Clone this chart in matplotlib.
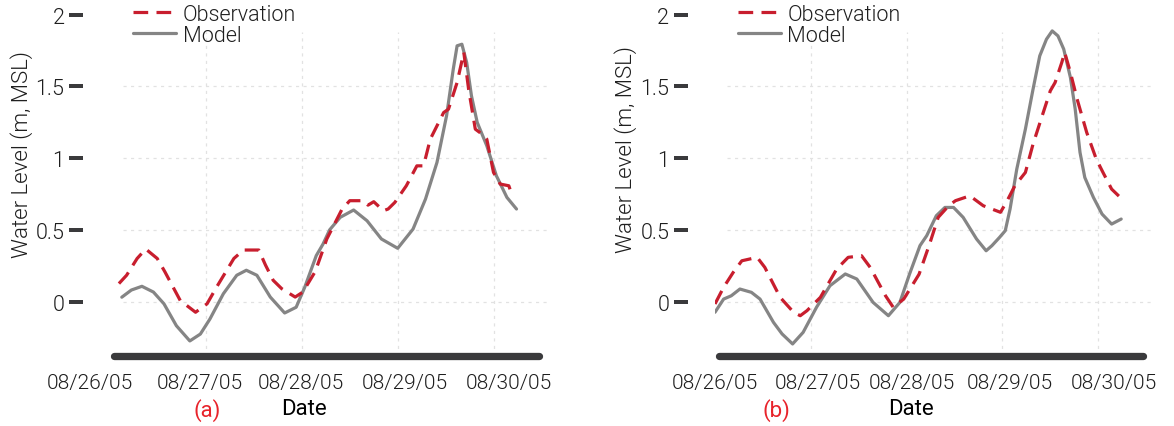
import numpy as np
import matplotlib
matplotlib.use("Agg")
import matplotlib.pyplot as plt
from matplotlib.transforms import ScaledTranslation, blended_transform_factory

plt.rcParams['font.family'] = ['Roboto', 'DejaVu Sans']

# ---------------- data (x in days since 08/26/05 00:00) ----------------
date_labels = ["08/26/05", "08/27/05", "08/28/05", "08/29/05", "08/30/05"]
day_ticks = [0, 1, 2, 3, 4]
y_ticks = [0, 0.5, 1, 1.5, 2]
y_tick_labels = ["0", "0.5", "1", "1.5", "2"]

a_model_t = [0.12, 0.22, 0.33, 0.45, 0.56, 0.69, 0.83, 0.94, 1.04, 1.18, 1.32, 1.42, 1.53,
             1.67, 1.82, 1.94, 2.03, 2.15, 2.22, 2.29, 2.40, 2.54, 2.68, 2.83, 3.00, 3.16,
             3.29, 3.41, 3.51, 3.58, 3.62, 3.67, 3.72, 3.77, 3.83, 3.93, 4.03, 4.14, 4.24]
a_model_v = [0.03, 0.08, 0.106, 0.066, -0.016, -0.169, -0.275, -0.227, -0.122, 0.054, 0.183,
             0.218, 0.183, 0.031, -0.080, -0.040, 0.10, 0.32, 0.40, 0.50, 0.587, 0.638, 0.563,
             0.436, 0.371, 0.505, 0.714, 0.970, 1.295, 1.62, 1.783, 1.794, 1.667, 1.434, 1.249,
             1.086, 0.877, 0.726, 0.645]

a_obs_t = [0.09, 0.17, 0.28, 0.37, 0.49, 0.57, 0.73, 0.89, 1.01, 1.11, 1.29, 1.39, 1.55, 1.62,
           1.70, 1.79, 1.93, 2.01, 2.14, 2.26, 2.42, 2.50, 2.64, 2.69, 2.75, 2.85, 2.90, 2.97,
           3.09, 3.20, 3.27, 3.34, 3.48, 3.53, 3.62, 3.69, 3.74, 3.81, 3.88, 3.93, 4.00, 4.07,
           4.16, 4.19]
a_obs_v = [0.125, 0.183, 0.30, 0.366, 0.30, 0.207, 0.007, -0.075, -0.016, 0.101, 0.30, 0.359,
           0.359, 0.254, 0.148, 0.089, 0.031, 0.066, 0.21, 0.436, 0.645, 0.703, 0.703, 0.672,
           0.696, 0.633, 0.645, 0.691, 0.807, 0.946, 0.946, 1.132, 1.318, 1.341, 1.527, 1.737,
           1.481, 1.202, 1.167, 1.132, 0.900, 0.819, 0.807, 0.749]

b_model_t = [0.0, 0.09, 0.17, 0.26, 0.38, 0.47, 0.61, 0.70, 0.81, 0.92, 1.06, 1.20, 1.36, 1.48,
             1.65, 1.81, 1.93, 2.03, 2.14, 2.21, 2.31, 2.40, 2.49, 2.59, 2.73, 2.83, 2.89, 2.97,
             3.03, 3.08, 3.15, 3.24, 3.32, 3.39, 3.46, 3.52, 3.58, 3.64, 3.71, 3.76, 3.81, 3.86,
             3.95, 4.04, 4.14, 4.24]
b_model_v = [-0.075, 0.017, 0.040, 0.087, 0.064, 0.017, -0.145, -0.226, -0.296, -0.215, -0.040,
             0.110, 0.192, 0.157, -0.006, -0.099, -0.006, 0.19, 0.39, 0.459, 0.598, 0.656, 0.656,
             0.587, 0.436, 0.354, 0.389, 0.447, 0.494, 0.645, 0.923, 1.202, 1.481, 1.713, 1.829,
             1.887, 1.852, 1.760, 1.562, 1.341, 1.040, 0.865, 0.726, 0.610, 0.540, 0.575]

b_obs_t = [0.0, 0.09, 0.19, 0.28, 0.44, 0.52, 0.68, 0.82, 0.89, 0.96, 1.10, 1.27, 1.39, 1.53,
           1.62, 1.78, 1.86, 1.97, 2.13, 2.24, 2.33, 2.44, 2.51, 2.66, 2.80, 2.98, 3.05, 3.13,
           3.24, 3.32, 3.41, 3.50, 3.55, 3.62, 3.65, 3.71, 3.78, 3.88, 3.98, 4.05, 4.14, 4.23]
b_obs_v = [-0.017, 0.099, 0.203, 0.284, 0.308, 0.238, 0.029, -0.075, -0.099, -0.064, 0.029,
           0.226, 0.308, 0.319, 0.238, 0.040, -0.040, 0.017, 0.19, 0.401, 0.587, 0.668, 0.703,
           0.737, 0.668, 0.622, 0.703, 0.807, 0.900, 1.098, 1.284, 1.469, 1.527, 1.667, 1.737,
           1.597, 1.411, 1.179, 0.993, 0.900, 0.784, 0.726]

panels = [
    dict(tag="(a)", mt=a_model_t, mv=a_model_v, ot=a_obs_t, ov=a_obs_v,
         left=110.3, lab_off=[-20.8, -6.1, -1.0, 7.3, 15.5], tag_x=1.01, date_x=2.02,
         ylab_y=0.592),
    dict(tag="(b)", mt=b_model_t, mv=b_model_v, ot=b_obs_t, ov=b_obs_v,
         left=715.0, lab_off=[0.0, 7.2, 5.4, 7.6, 15.8], tag_x=0.644, date_x=2.05,
         ylab_y=0.609),
]

# ---------------- styling ----------------
W, H = 1174, 427
DPI = 100
PX_PER_DAY = 95.8
XMAX = 4.58
YMIN, YMAX = -0.38, 2.0
AX_BOTTOM_PX = 357.0
AX_TOP_PX = 15.7
RED = "#c81e2e"
GREY = "#858585"
DARK = "#3a3a3c"
GRID = "#e2e2e2"
TXT = "#1e1e1e"
FS_TICK = 15
FS_LAB = 16
FS_LEG = 15.5
WEIGHT = 300

fig = plt.figure(figsize=(W / DPI, H / DPI), dpi=DPI)
pt = 72.0 / DPI  # points per pixel

for p in panels:
    ax_w = XMAX * PX_PER_DAY
    ax_h = AX_BOTTOM_PX - AX_TOP_PX
    ax = fig.add_axes([p["left"] / W, (H - AX_BOTTOM_PX) / H, ax_w / W, ax_h / H])
    ax.set_xlim(0, XMAX)
    ax.set_ylim(YMIN, YMAX)
    ax.set_facecolor("white")

    # grid (drawn only within the panel's data region)
    for yt in y_ticks[:-1]:
        ax.axhline(yt, xmin=0.13 / XMAX, xmax=1.0, color=GRID, lw=0.9,
                   ls=(0, (2.5, 3.5)), zorder=0)
    for xt in day_ticks[1:]:
        ax.axvline(xt, ymin=0, ymax=(1.878 - YMIN) / (YMAX - YMIN), color=GRID, lw=0.9,
                   ls=(0, (2.5, 3.5)), zorder=0)

    ax.plot(p["ot"], p["ov"], color=RED, lw=2.3, dashes=(4.6, 2.6),
            label="Observation", zorder=3)
    ax.plot(p["mt"], p["mv"], color=GREY, lw=2.3, label="Model", zorder=2,
            solid_joinstyle="round", solid_capstyle="round")

    # spines
    for s in ["top", "right"]:
        ax.spines[s].set_visible(False)
    ax.spines["left"].set_position(("outward", 27 * pt))
    ax.spines["left"].set_color("none")
    bs = ax.spines["bottom"]
    bs.set_linewidth(7.3 * pt)
    bs.set_color(DARK)
    bs.set_capstyle("round")
    bs.set_bounds(0.04, 4.47)

    # y ticks
    ax.set_yticks(y_ticks, labels=y_tick_labels)
    ax.tick_params(axis="y", length=14 * pt, width=4 * pt, color=DARK, pad=3.5,
                   labelsize=FS_TICK + 0.5, labelcolor=TXT)
    for t in ax.yaxis.get_ticklines():
        t.set_solid_capstyle("round")
    for lab in ax.get_yticklabels():
        lab.set_fontweight(WEIGHT)

    # x ticks
    ax.set_xticks(day_ticks, labels=date_labels)
    ax.tick_params(axis="x", length=0, pad=12.5, labelsize=FS_TICK, labelcolor=TXT)
    for lab, off in zip(ax.get_xticklabels(), p["lab_off"]):
        lab.set_fontweight(WEIGHT)
        lab.set_transform(lab.get_transform() + ScaledTranslation(off * pt / 72, 0,
                                                                  fig.dpi_scale_trans))

    # axis labels
    ax.set_ylabel("Water Level (m, MSL)", fontsize=FS_LAB, color=TXT, fontweight=WEIGHT)
    ax.yaxis.set_label_coords(-89.0 / ax_w, p["ylab_y"])
    ax.yaxis.label.set_verticalalignment("center")

    ax.set_xlabel("Date", fontsize=FS_LAB, color="black")
    ax.xaxis.set_label_coords(p["date_x"] / XMAX, -53.0 / ax_h)
    ax.xaxis.label.set_verticalalignment("center")

    trans = blended_transform_factory(ax.transData, ax.transAxes)
    ax.text(p["tag_x"], -54.0 / ax_h, p["tag"], transform=trans, ha="center", va="center",
            fontsize=FS_LAB, color="#e8232b")

    leg = ax.legend(loc="upper left", bbox_to_anchor=(0.237 / XMAX, (AX_BOTTOM_PX - 5) / ax_h),
                    frameon=False, fontsize=FS_LEG, borderpad=0, borderaxespad=0,
                    handlelength=2.0, handletextpad=0.3, labelspacing=0.0)
    for txt in leg.get_texts():
        txt.set_color(TXT)
        txt.set_fontweight(WEIGHT)

fig.savefig("out.png", dpi=DPI, facecolor="white")
